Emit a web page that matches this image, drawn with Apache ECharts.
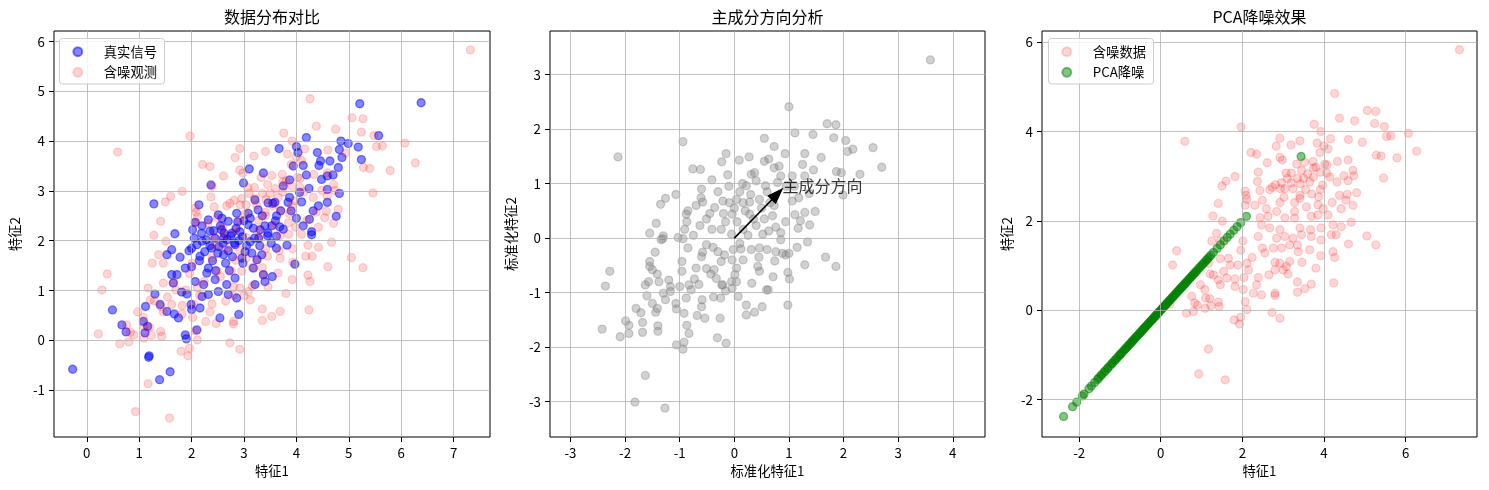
<!DOCTYPE html>
<html><head><meta charset="utf-8">
<script src="https://cdn.jsdelivr.net/npm/echarts@6/dist/echarts.min.js"></script>
<style>html,body{margin:0;padding:0;background:#fff}#c{width:1489px;height:490px}</style>
</head><body><div id="c"></div>
<script>
// ---- tick labels ----
const xTicks1 = [0,1,2,3,4,5,6,7];
const yTicks1 = [-1,0,1,2,3,4,5,6];
const xTicks2 = [-3,-2,-1,0,1,2,3,4];
const yTicks2 = [-3,-2,-1,0,1,2,3];
const xTicks3 = [-2,0,2,4,6];
const yTicks3 = [-2,0,2,4,6];

// ---- text ----
const titles = ['数据分布对比','主成分方向分析','PCA降噪效果'];
const seriesNames = ['真实信号','含噪观测','含噪数据','PCA降噪'];
const arrowText = '主成分方向';

// ---- data: true signal (panel 1, blue) ----
const trueSignal = [
[3.10,3.44],[3.37,3.36],[2.99,3.16],[2.37,3.12],[1.28,2.74],[2.14,2.72],[2.51,2.52],[2.70,2.39],[2.86,2.55],[3.08,2.55],[3.27,2.62],[3.46,2.76],[1.68,2.14],[2.19,2.15],[2.35,2.19],[2.57,2.22],[2.77,2.15],[3.08,2.32],[3.31,2.22],[3.46,2.15],[2.07,2.37],[3.21,2.82],
[5.21,4.75],[6.38,4.77],[5.57,4.11],[4.19,4.07],[4.85,4.0],[4.99,3.95],[4.82,3.83],[5.18,3.88],[4.87,3.67],[5.24,3.63],[3.67,3.85],[4.0,3.89],[4.03,3.77],[4.4,3.77],[4.46,3.6],[4.43,3.51],[4.64,3.6],[4.8,3.47],[4.13,3.51],[3.94,3.5],[4.19,3.32],[4.7,3.32],[4.59,3.3],[4.48,3.23],[3.87,3.22],[3.75,3.1],[4.24,3.05],[4.59,3.03],[4.82,2.95],[4.06,2.97],[3.87,2.87],[4.1,2.78],[4.59,2.77],[4.42,2.7],[4.32,2.6],[4.76,2.49],[4.25,2.43],[4.13,2.3],[4.29,2.18],[3.84,2.77],[3.59,2.77],[3.62,2.5],[3.53,2.3],[3.75,2.23],
[-0.27,-0.58],[0.49,0.61],[0.67,0.31],[0.75,0.17],[1.19,-0.31],[1.18,-0.34],[1.39,-0.79],[1.59,-0.63],[1.12,0.68],[1.08,0.38],[1.16,0.28],[1.11,0.15],[1.3,0.93],[1.53,1.72],[1.62,1.82],[1.78,1.67],[1.62,1.32],[1.72,1.32],[1.88,1.45],[1.65,1.15],[1.81,0.97],[1.91,0.93],[1.4,0.72],[1.53,0.58],[1.67,0.53],[1.75,0.45],[1.99,0.72],[2.0,0.62],[2.16,0.65],[1.88,0.11],[1.9,0.03],[2.1,0.21],[2.07,1.18],[2.23,1.12],[2.2,0.88],[2.32,0.92],[2.0,1.85],[2.16,1.69],[2.0,1.48],[2.29,1.35],[2.45,1.22],[2.54,0.45],[2.51,0.98],[2.67,1.12],[2.7,0.92],[2.86,0.85],[2.9,0.52],[3.21,1.12],[3.4,1.18],[2.38,1.85],[2.61,1.72],[2.83,1.92],[3.18,1.45],[2.96,1.65],[3.37,1.32],[3.34,1.72],[2.61,2.05],[2.2,1.99],[2.32,1.45],[2.83,1.25],
[4.29,2.12],[3.97,1.53],[3.54,1.28],[3.82,1.91],[3.62,1.85],[3.62,2.09],
[2.45,2.05],[2.6,1.95],[2.75,2.1],[2.9,2.0],[3.05,1.9],[3.2,2.05],[2.35,1.9],[2.55,2.3],[2.85,2.25],[3.0,2.4],[2.7,1.8],[3.15,1.75],[2.4,1.6],[2.65,1.55],[3.3,1.9],[3.45,2.1],[3.6,2.4],[3.7,2.6],[3.55,2.75],[3.35,2.5],[2.2,2.3],[2.05,2.05],[1.95,1.8],[2.15,1.6],
[2.28,2.02],[2.52,1.88],[2.68,2.02],[2.82,1.95],[2.97,2.08],[3.12,1.98],[2.42,2.2],[2.62,2.15],[2.92,2.18],[3.18,2.25],[2.5,1.75],[2.78,1.68],[3.02,1.78],[3.25,1.62],[2.25,1.78],[2.1,1.92],[2.58,2.45],[2.88,2.38],[3.12,2.45],[3.4,2.3],[3.28,2.05],[2.98,1.55],[2.46,1.4],[2.72,1.4],[3.52,1.95],[3.68,2.28],[2.32,2.42],[2.02,2.22],[3.9,2.6],[4.0,2.45]
];

// ---- data: noisy observations (panels 1 and 3, red) ----
const noisyObs = [
[4.26,4.85],[5.06,4.47],[5.27,4.45],[4.38,4.30],[4.75,4.24],[5.24,4.18],[5.48,4.11],[3.76,4.16],[3.92,4.0],[1.97,4.1],[0.59,3.78],[2.92,3.85],[3.41,3.79],[2.83,3.67],[3.19,3.7],[4.16,3.84],[4.6,3.82],[4.94,3.76],[5.53,3.89],[5.64,3.9],[6.07,3.96],[6.27,3.56],[5.28,3.47],[5.4,3.45],[5.79,3.41],[3.83,3.74],[4.0,3.68],[4.1,3.61],[3.9,3.53],[2.21,3.53],[2.35,3.49],[2.92,3.42],[2.98,3.36],[2.61,3.3],[4.33,3.33],[4.59,3.36],[3.33,3.27],[3.53,3.31],[3.73,3.33],[4.02,3.27],[4.07,3.25],[3.74,3.18],[3.45,3.13],[3.2,3.07],[3.07,3.07],[3.92,3.09],[4.07,3.07],[4.71,3.13],[4.49,3.01],[4.73,3.01],[5.46,2.96],[4.32,2.87],[4.59,2.9],[4.14,2.98],[3.74,2.98],[2.39,3.09],[2.37,2.88],[2.43,2.68],[2.96,2.85],[2.81,2.81],[2.73,2.75],[2.93,2.72],[3.2,2.85],[3.42,2.83],[3.65,2.87],[3.97,2.8],[3.04,2.72],[3.24,2.72],[2.67,2.7],[3.02,2.53],[3.41,2.57],[3.41,2.5],[3.91,2.7],[3.87,2.54],[4.38,2.57],[4.57,2.59],[4.8,2.63],[1.82,2.99],[1.6,2.89],[1.5,2.78],[2.07,2.66],[2.09,2.57],[2.49,2.46],[2.11,2.48],[2.92,2.41],[3.28,2.41],[3.57,2.31],[3.85,2.36],[4.2,2.41],[4.54,2.46],[4.71,2.35],[1.41,2.39],[2.07,2.35],[2.31,2.35],[2.59,2.27],[3.98,2.27],[4.42,2.27],[7.32,5.83],
[3.5,2.95],[3.6,3.05],[3.35,2.95],[3.8,3.2],[3.55,2.7],[3.1,2.95],[3.7,2.6],
[2.84,2.21],[3.28,2.21],[4.1,2.13],[1.28,2.11],[1.51,1.99],[2.43,2.07],[2.63,2.1],[3.04,2.07],[3.28,2.06],[3.69,2.1],[3.85,2.13],[4.22,1.91],[4.42,1.87],[4.67,1.97],[2.47,1.91],[2.67,1.84],[2.92,1.8],[3.41,1.84],[3.67,1.8],[3.93,1.84],[2.39,1.65],[2.84,1.61],[3.04,1.65],[3.24,1.61],[3.45,1.69],[3.69,1.65],[4.18,1.69],[4.3,1.69],[5.05,1.66],[5.27,1.46],[4.6,1.48],[3.93,1.57],[2.01,1.55],[1.37,1.72],[1.25,1.55],[1.46,1.55],[1.96,1.34],[2.49,1.39],[2.55,1.28],[2.76,1.39],[2.96,1.39],[3.16,1.46],[3.35,1.46],[3.37,1.31],[3.65,1.35],[3.92,1.22],[4.22,1.31],[4.26,1.18],[2.24,1.18],[1.66,1.16],[1.46,1.15],[1.17,1.05],[0.29,1.01],[0.39,1.33],[1.7,1.01],[1.89,1.01],[2.11,1.05],[2.15,0.9],[2.8,1.07],[2.92,1.05],[3.08,0.98],[3.16,1.09],[2.8,0.9],[3.0,0.9],[3.12,0.81],[3.46,1.07],[3.8,0.94],[2.65,0.79],[2.39,0.73],[2.04,0.73],[1.82,0.7],[1.54,0.87],[1.29,0.79],[1.21,0.81],[1.41,0.68],[1.62,0.72],[0.97,0.57],[1.08,0.46],[0.76,0.31],[0.83,0.16],[1.1,0.27],[1.46,0.57],[1.82,0.53],[2.02,0.46],[2.35,0.57],[2.27,0.38],[2.47,0.34],[2.8,0.38],[2.8,0.33],[3.35,0.63],[3.69,0.58],[4.24,0.61],[3.53,0.48],[3.35,0.4],[1.41,0.18],[1.43,0.08],[1.09,0.04],[0.8,-0.03],[0.63,-0.07],[2.07,0.19],[2.11,0.01],[2.73,-0.05],[2.92,-0.18],[1.8,-0.22],[1.96,-0.16],[1.93,-0.31],[1.17,-0.87],[0.93,-1.43],[1.58,-1.56],[0.22,0.13],[1.2,0.26],[1.23,0.1],[0.9,0.11]
];

// ---- data: standardized noisy data (panel 2, gray) ----
const standardized = [
[-0.94,1.77],[-2.13,1.49],[0.55,1.83],[-0.15,1.55],[-0.23,1.4],[0.09,1.43],[0.27,1.49],[-0.76,1.27],[-0.62,1.26],[-0.41,1.07],[-0.12,1.16],[0.31,1.17],[0.37,1.2],[0.55,1.41],[-0.6,0.9],[-0.61,0.74],[-0.58,0.66],[-1.07,0.8],[-1.26,0.73],[-1.35,0.62],[-0.85,0.5],[-0.88,0.44],[-0.87,0.3],[-0.91,0.16],[-1.43,0.27],[-1.55,0.09],[-0.36,0.56],[-0.21,0.68],[-0.09,0.65],[-0.04,0.44],[-0.16,0.3],[-0.24,0.16],[-0.41,0.16],[-0.63,0.23],[-0.51,0.35],[0.1,0.85],[0.04,0.71],[0.16,0.65],[0.28,0.66],[0.22,0.96],[0.4,1.05],[0.57,0.96],[0.46,0.71],[0.28,0.44],[0.16,0.16],[0.4,0.23],[0.52,0.07],[-0.05,0.07],[-1.3,0.04],[-1.03,0.01],
[3.59,3.27],[1.0,2.41],[1.7,2.1],[1.86,2.08],[1.11,1.93],[1.44,1.9],[1.82,1.84],[2.04,1.79],[2.17,1.63],[2.07,1.59],[2.54,1.66],[2.7,1.3],[2.3,1.17],[1.87,1.22],[1.96,1.2],[1.29,1.55],[1.59,1.48],[0.93,1.55],[0.73,1.68],[0.63,1.45],[0.82,1.32],[0.73,1.29],[0.85,1.14],[1.06,1.14],[1.29,1.14],[1.37,0.82],[1.99,0.79],[1.18,0.74],[1.06,0.68],[1.48,0.49],[1.29,0.47],[1.11,0.43],[0.94,0.3],[1.21,0.32],[1.38,0.24],[1.17,0.18],[0.73,0.6],[0.7,0.41],[0.76,0.2],[0.63,0.13],[0.85,0.1],[0.79,1.02],
[-2.28,-0.61],[-2.36,-0.88],[-2.42,-1.67],[-2.09,-1.81],[-1.99,-1.52],[-1.93,-1.6],[-1.93,-1.75],[-1.8,-1.29],[-1.71,-1.37],[-1.68,-1.55],[-1.68,-1.73],[-1.63,-2.52],[-1.82,-3.01],[-1.27,-3.12],[-1.6,-1.06],[-1.63,-0.86],[-1.57,-0.8],[-1.5,-1.2],[-1.41,-1.29],[-1.44,-1.36],[-1.4,-1.61],[-1.4,-1.71],[-1.55,-0.43],[-1.55,-0.52],[-1.5,-0.58],[-1.41,-0.66],[-1.45,-0.26],[-1.38,-0.8],[-1.3,-1.01],[-1.26,-1.13],[-1.2,-0.77],[-1.17,-0.89],[-1.17,-0.98],[-1.34,-0.03],[-1.31,-0.01],[-0.94,-0.01],[-0.85,-0.18],[-0.96,-0.43],[-0.96,-0.61],[-1.0,-0.89],[-1.07,-1.2],[-1.06,-1.3],[-0.92,-1.38],[-0.88,-1.1],[-0.83,-0.86],[-0.73,-0.75],[-0.79,-0.95],[-0.87,-1.6],[-0.83,-1.75],[-1.06,-1.96],[-0.94,-2.04],[-0.92,-1.91],[-0.59,-1.13],[-0.6,-1.26],[-0.68,-1.42],[-0.54,-1.47],[-0.38,-1.08],[-0.31,-1.83],[-0.15,-1.93],[-0.26,-1.47],[-0.6,-0.34],[-0.58,-0.26],[-0.51,-0.12],[-0.39,-0.17],[-0.51,-0.56],[-0.43,-0.66],[-0.33,-0.74],[-0.37,-0.58],[-0.24,-0.43],[-0.21,-0.86],[-0.16,-0.97],[-0.18,-0.31],[-0.02,-0.21],[-0.04,-0.4],[0.04,-0.55],[0.04,-0.8],[0.07,-1.07],[0.22,-1.23],[0.22,-1.41],[0.37,-1.36],[0.51,-1.26],[0.32,-0.83],[0.16,-0.4],[0.31,-0.21],[0.46,-0.18],[0.43,-0.52],[0.46,-0.61],[0.59,-0.95],[-0.04,-0.92],[-0.05,-0.8],[0.01,-0.67],[-0.23,-0.86],
[1.34,-0.07],[1.15,-0.17],[1.0,-0.28],[0.88,-0.28],[0.74,-0.42],[1.67,-0.35],[1.86,-0.52],[1.29,-0.49],[0.98,-0.63],[1.01,-0.75],[0.71,-0.71],[0.62,-0.95],[0.98,-1.23],[0.6,-0.21],[0.85,-0.03],[0.94,-0.31],[0.76,-0.25],
[0.05,0.3],[0.2,0.5],[0.35,0.35],[0.5,0.55],[0.6,0.85],[0.3,0.8],[0.15,1.0],[-0.1,0.95],[-0.3,0.85],[-0.45,0.45],[-0.2,0.45],[0.1,-0.1],[0.25,0.05],[0.55,0.35],[0.65,0.65],[0.95,0.95],[1.1,0.95],[0.45,-0.35],[-0.3,-0.25],[-0.7,-0.55],[-0.75,0.05],[-0.7,0.6],[1.45,1.25],[1.25,1.35],[-0.25,-1.1],[0.12,-0.2],[-0.65,-0.85],[0.0,0.55]
];

// ---- data: PCA-denoised points (panel 3, green, they lie on the diagonal) ----
const denoised = [
[-2.38,-2.38],[-2.16,-2.16],[-2.06,-2.06],[-1.92,-1.92],[-1.88,-1.88],[-1.76,-1.76],[-1.7,-1.7],[-1.62,-1.62],[-1.55,-1.55],[-1.52,-1.52],[-1.47,-1.47],[-1.44,-1.44],[-1.39,-1.39],[-1.36,-1.36],[-1.31,-1.31],[-1.29,-1.29],[-1.24,-1.24],[-1.2,-1.2],[-1.18,-1.18],[-1.13,-1.13],[-1.1,-1.1],[-1.07,-1.07],[-1.03,-1.03],[-1.0,-1.0],[-0.98,-0.98],[-0.95,-0.95],[-0.91,-0.91],[-0.88,-0.88],[-0.86,-0.86],[-0.82,-0.82],[-0.8,-0.8],[-0.77,-0.77],[-0.74,-0.74],[-0.71,-0.71],[-0.69,-0.69],[-0.66,-0.66],[-0.63,-0.63],[-0.61,-0.61],[-0.58,-0.58],[-0.55,-0.55],[-0.52,-0.52],[-0.5,-0.5],[-0.47,-0.47],[-0.44,-0.44],[-0.42,-0.42],[-0.39,-0.39],[-0.37,-0.37],[-0.34,-0.34],[-0.31,-0.31],[-0.29,-0.29],[-0.26,-0.26],[-0.23,-0.23],[-0.21,-0.21],[-0.18,-0.18],[-0.15,-0.15],[-0.13,-0.13],[-0.1,-0.1],[-0.07,-0.07],[-0.05,-0.05],[-0.02,-0.02],[0.01,0.01],[0.04,0.04],[0.06,0.06],[0.09,0.09],[0.12,0.12],[0.14,0.14],[0.17,0.17],[0.2,0.2],[0.22,0.22],[0.25,0.25],[0.28,0.28],[0.3,0.3],[0.33,0.33],[0.36,0.36],[0.38,0.38],[0.41,0.41],[0.44,0.44],[0.47,0.47],[0.49,0.49],[0.52,0.52],[0.55,0.55],[0.58,0.58],[0.6,0.6],[0.63,0.63],[0.66,0.66],[0.69,0.69],[0.72,0.72],[0.75,0.75],[0.78,0.78],[0.81,0.81],[0.84,0.84],[0.87,0.87],[0.9,0.9],[0.94,0.94],[0.97,0.97],[1.01,1.01],[1.04,1.04],[1.08,1.08],[1.12,1.12],[1.15,1.15],[1.19,1.19],[1.23,1.23],[1.29,1.29],[1.38,1.38],[1.46,1.46],[1.55,1.55],[1.63,1.63],[1.7,1.7],[1.79,1.79],[1.87,1.87],[1.96,1.96],[2.1,2.1],[3.44,3.44]
];

// principal direction arrow (standardized space): from origin to tip
const pcArrow = [[0,0],[0.79,0.81]];
const pcLabelAt = [0.88,0.965];

// ---------------- chart ----------------
const FONT = "'Noto Sans CJK SC','Noto Sans',sans-serif";
const TXT = {color:'#000', fontFamily: FONT, fontSize: 13.3};
const grids = [
  {left:54, top:31, width:436, height:406},
  {left:550, top:31, width:435, height:406},
  {left:1042, top:31, width:435, height:406}
];
const ranges = [
  {x:[-0.626,7.695], y:[-1.94,6.21]},
  {x:[-3.375,4.59], y:[-3.65,3.80]},
  {x:[-2.91,7.75], y:[-2.84,6.25]}
];
const xt = [xTicks1,xTicks2,xTicks3], yt = [yTicks1,yTicks2,yTicks3];
const xNames = ['特征1','标准化特征1','特征1'];
const yNames = ['特征2','标准化特征2','特征2'];
const yGaps = [32,32,28];

function axisCommon(min,max,ticks){
  return {
    type:'value', min:min, max:max, scale:true,
    axisLine:{show:false, onZero:false},
    axisTick:{show:true, inside:false, length:5, lineStyle:{color:'#000',width:1}, customValues:ticks},
    axisLabel:Object.assign({customValues:ticks, formatter:v=>String(v)}, TXT),
    splitLine:{show:false},
    nameTextStyle:Object.assign({}, TXT)
  };
}
const xAxes = [], yAxes = [];
for(let i=0;i<3;i++){
  const xa = axisCommon(ranges[i].x[0],ranges[i].x[1],xt[i]);
  xa.gridIndex=i; xa.name=xNames[i]; xa.nameLocation='middle'; xa.nameGap=27; xa.axisLabel.margin=9;
  xAxes.push(xa);
  const ya = axisCommon(ranges[i].y[0],ranges[i].y[1],yt[i]);
  ya.gridIndex=i; ya.name=yNames[i]; ya.nameLocation='middle'; ya.nameGap=yGaps[i]; ya.axisLabel.margin=9;
  yAxes.push(ya);
}
function gridLines(i){
  const d=[];
  xt[i].forEach(v=>d.push({xAxis:v}));
  yt[i].forEach(v=>d.push({yAxis:v}));
  return {silent:true, symbol:['none','none'], animation:false, label:{show:false},
    lineStyle:{color:'#b0b0b0', width:0.8, type:'solid'}, emphasis:{disabled:true}, data:d, z:5};
}
function sty(c,a){return {color:`rgba(${c},${a})`, borderColor:`rgba(${c},${a})`, borderWidth:1.3};}

const legendBoxes = [
  {x:59.5, y:38.5, w:105, h:45.5},
  {x:1048.5, y:38.5, w:105, h:45.5}
];

const option = {
  animation:false,
  backgroundColor:'#fff',
  title: titles.map((t,i)=>({text:t, left: grids[i].left + grids[i].width/2, top:9, padding:0, textAlign:'center',
    textStyle:{fontSize:16, fontWeight:'normal', color:'#000', fontFamily:FONT}})),
  grid: grids.map(g=>Object.assign({show:true, borderColor:'#000', borderWidth:1, backgroundColor:'transparent', containLabel:false}, g)),
  graphic: legendBoxes.map(b=>({type:'rect', z:10, silent:true, shape:{x:b.x, y:b.y, width:b.w, height:b.h, r:3},
    style:{fill:'rgba(255,255,255,0.8)', stroke:'#cccccc', lineWidth:1}})),
  legend: [
    {data:[seriesNames[0],seriesNames[1]], left:72.3, top:44.7},
    {data:[seriesNames[2],seriesNames[3]], left:1061.3, top:44.7}
  ].map(l=>Object.assign({orient:'vertical', icon:'circle', itemWidth:42, itemHeight:9, itemGap:6.6,
      padding:0, z:11, selectedMode:false, textStyle:Object.assign({lineHeight:14}, TXT)}, l)),
  xAxis: xAxes,
  yAxis: yAxes,
  series: [
    {name:seriesNames[0], type:'scatter', xAxisIndex:0, yAxisIndex:0, data:trueSignal, symbolSize:8,
      itemStyle:sty('0,0,255',0.6), z:2, markLine:gridLines(0)},
    {name:seriesNames[1], type:'scatter', xAxisIndex:0, yAxisIndex:0, data:noisyObs, symbolSize:8,
      itemStyle:sty('255,0,0',0.2), z:2},
    {name:'标准化数据', type:'scatter', xAxisIndex:1, yAxisIndex:1, data:standardized, symbolSize:8,
      itemStyle:sty('128,128,128',0.45), z:2, markLine:gridLines(1)},
    {name:'主成分', type:'scatter', xAxisIndex:1, yAxisIndex:1, data:[pcLabelAt], symbolSize:0, z:6,
      label:{show:true, position:'right', distance:0, formatter:arrowText, fontSize:16, color:'#000', fontFamily:FONT},
      markLine:{silent:true, animation:false, z:6, symbol:['none','triangle'], symbolSize:[12,17], label:{show:false},
        lineStyle:{color:'#000', width:1.6, type:'solid'}, emphasis:{disabled:true},
        itemStyle:{color:'#000'},
        data:[[{coord:pcArrow[0]},{coord:pcArrow[1]}]]}},
    {name:seriesNames[2], type:'scatter', xAxisIndex:2, yAxisIndex:2, data:noisyObs, symbolSize:8,
      itemStyle:sty('255,0,0',0.2), z:2, markLine:gridLines(2)},
    {name:seriesNames[3], type:'scatter', xAxisIndex:2, yAxisIndex:2, data:denoised, symbolSize:8,
      itemStyle:sty('0,128,0',0.6), z:2}
  ]
};
const chart = echarts.init(document.getElementById('c'), null, {renderer:'canvas'});
chart.setOption(option);
</script></body></html>
